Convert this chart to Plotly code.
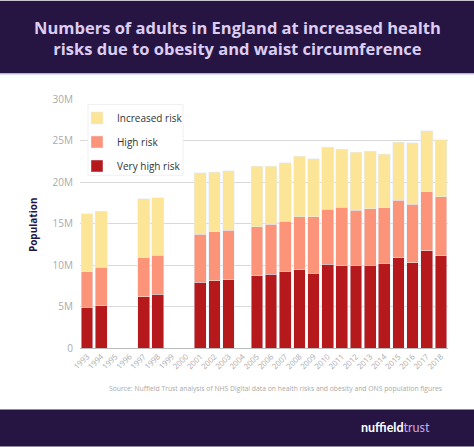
import plotly.graph_objects as go

years = [str(y) for y in range(1993, 2019)]
# values in millions; None = no survey data
very_high = [4.9, 5.1, None, None, 6.2, 6.5, None, None, 7.9, 8.1, 8.2, None, 8.7, 8.9, 9.25, 9.4, 9.0, 10.1, 9.9, 10.0, 10.0, 10.2, 10.9, 10.25, 11.7, 11.1]
high_total = [9.2, 9.7, None, None, 10.9, 11.2, None, None, 13.7, 14.0, 14.2, None, 14.6, 14.9, 15.3, 15.8, 15.8, 16.7, 16.95, 16.6, 16.8, 16.9, 17.8, 17.3, 18.8, 18.2]
total = [16.2, 16.5, None, None, 18.0, 18.1, None, None, 21.1, 21.2, 21.35, None, 21.9, 21.9, 22.3, 23.1, 22.8, 24.2, 23.95, 23.6, 23.7, 23.35, 24.8, 24.7, 26.15, 25.1]

def diff(a, b):
    return [None if x is None else round(x - y, 3) for x, y in zip(a, b)]

high = diff(high_total, very_high)
increased = diff(total, high_total)

def m(v):
    return [None if x is None else x * 1e6 for x in v]

tick_vals = [0, 5e6, 10e6, 15e6, 20e6, 25e6, 30e6]
tick_text = ["0", "5M", "10M", "15M", "20M", "25M", "30M"]

C_VH = "#b5191c"
C_H = "#fc9479"
C_I = "#fde597"
PURPLE = "#261542"

fig = go.Figure()
fig.add_bar(x=years, y=m(very_high), name="Very high risk", marker_color=C_VH, legendgroup="c", legendrank=3)
fig.add_bar(x=years, y=m(high), name="High risk", marker_color=C_H, legendgroup="b", legendrank=2)
fig.add_bar(x=years, y=m(increased), name="Increased risk", marker_color=C_I, legendgroup="a", legendrank=1)

W, H = 474, 447
L, R, T, B = 80, 26, 98.5, 98.7
ph = H - T - B

def py(px_from_top):
    return (H - B - px_from_top) / ph

def pxx(px):
    return (px - L) / (W - L - R)

shapes = [
    dict(type="rect", xref="paper", yref="paper", x0=pxx(0), x1=pxx(W), y0=py(73), y1=py(0),
         fillcolor=PURPLE, line_width=0, layer="below"),
    dict(type="rect", xref="paper", yref="paper", x0=pxx(0), x1=pxx(W), y0=py(74.5), y1=py(73),
         fillcolor="#e6dcf7", line_width=0, layer="below"),
    dict(type="rect", xref="paper", yref="paper", x0=pxx(0), x1=pxx(W), y0=py(H), y1=py(410),
         fillcolor=PURPLE, line_width=0, layer="below"),
    dict(type="rect", xref="paper", yref="paper", x0=pxx(88), x1=pxx(183), y0=py(175), y1=py(104),
         fillcolor="white", line=dict(color="#f0f0f0", width=1), layer="above"),
]

annotations = [
    dict(text="Numbers of adults in England at increased health<br>risks due to obesity and waist circumference",
         xref="paper", yref="paper", x=pxx(237), y=py(37.5), xanchor="center", yanchor="middle",
         showarrow=False, font=dict(family="Open Sans", size=16.5, color="#dccdf3", weight="bold"),
         align="center"),
    dict(text="Population", xref="paper", yref="paper", x=pxx(33), y=py(224), textangle=-90,
         showarrow=False, xanchor="center", yanchor="middle",
         font=dict(family="Open Sans", size=10, color=PURPLE, weight="bold")),
    dict(text="Source: Nuffield Trust analysis of NHS Digital data on health risks and obesity and ONS population figures",
         xref="paper", yref="paper", x=pxx(275), y=py(389), showarrow=False,
         xanchor="center", yanchor="middle",
         font=dict(family="Open Sans", size=6.8, color="#aaaaaa")),
    dict(text="<b>nuffield</b><span style='color:#c9a9ec'>trust</span>",
         xref="paper", yref="paper", x=pxx(432), y=py(428), showarrow=False,
         xanchor="right", yanchor="middle",
         font=dict(family="Lato", size=12.5, color="white")),
]

fig.update_layout(
    width=W, height=H,
    margin=dict(l=L, r=R, t=T, b=B, autoexpand=False),
    barmode="stack", bargap=0.17,
    paper_bgcolor="white", plot_bgcolor="white",
    showlegend=True,
    legend=dict(x=pxx(77), y=py(103), xanchor="left", yanchor="top",
                traceorder="grouped", bgcolor="rgba(0,0,0,0)",
                font=dict(family="Open Sans", size=10, color="#333333"),
                itemwidth=30, tracegroupgap=5),
    shapes=shapes, annotations=annotations,
    xaxis=dict(type="category", tickangle=-45, tickfont=dict(family="Open Sans", size=7.8, color="#aaaaaa"),
               showgrid=False, showline=True, linecolor="#bbbbbb", linewidth=1, ticks=""),
    yaxis=dict(range=[0, 30e6], tickvals=tick_vals, ticktext=tick_text,
               tickfont=dict(family="Open Sans", size=10, color="#aaaaaa"),
               showgrid=True, gridcolor="#d9d9d9", gridwidth=1, zeroline=False, ticks="",
               ticklabelstandoff=6),
)

fig.write_html("out.html", config={"displayModeBar": False},
               post_script="document.body.style.margin='0';document.body.style.overflow='hidden';")
